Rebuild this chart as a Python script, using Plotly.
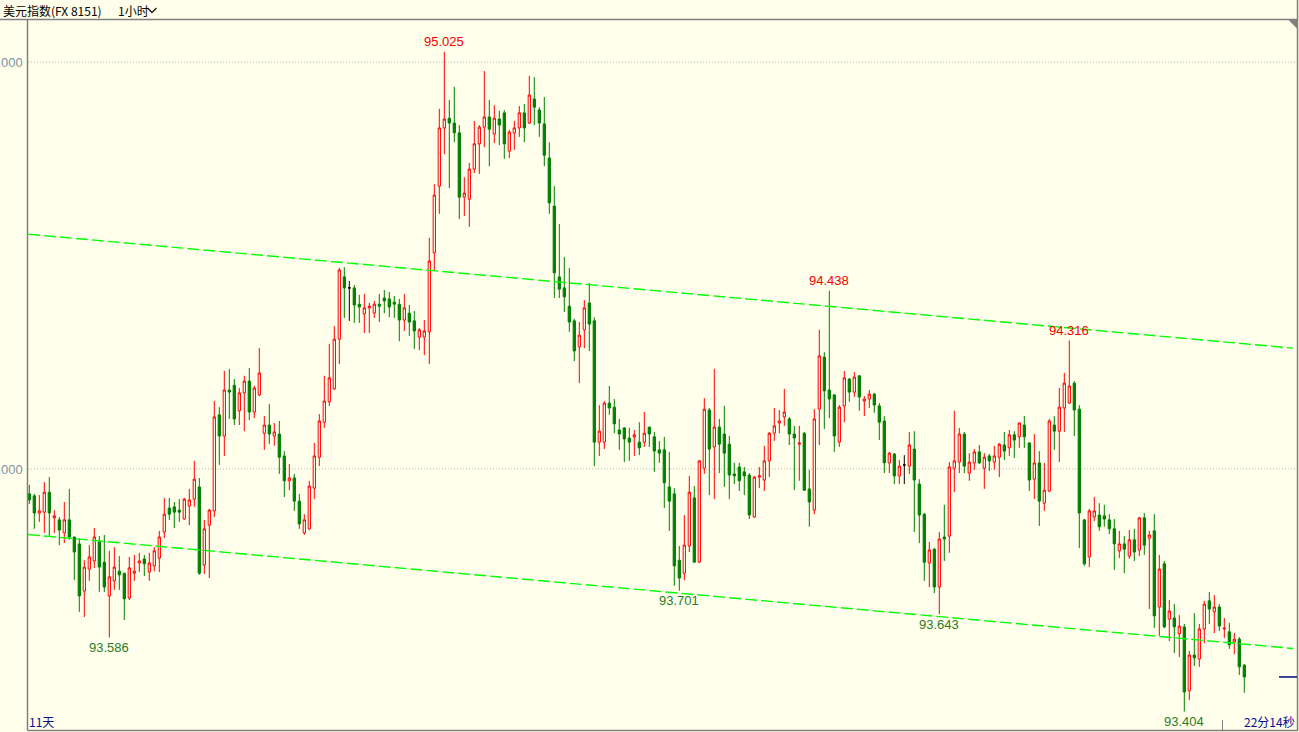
import plotly.graph_objects as go

# ---------------- data ----------------
open_ = [
    93.939, 93.934, 93.892, 93.894, 93.943, 93.880, 93.875, 93.843, 93.875, 93.833,
    93.816, 93.700, 93.754, 93.774, 93.821, 93.771, 93.688, 93.725, 93.749, 93.744,
    93.683, 93.744, 93.769, 93.779, 93.747, 93.762, 93.781, 93.845, 93.904, 93.907,
    93.899, 93.877, 93.909, 93.926, 93.956, 93.764, 93.862, 93.897, 94.133, 94.081,
    94.194, 94.206, 94.143, 94.187, 94.216, 94.140, 94.182, 94.088, 94.108, 94.081,
    94.086, 94.032, 93.971, 93.978, 93.921, 93.843, 93.853, 93.953, 94.029, 94.115,
    94.165, 94.197, 94.319, 94.472, 94.445, 94.445, 94.405, 94.381, 94.396, 94.383,
    94.405, 94.420, 94.418, 94.410, 94.405, 94.366, 94.383, 94.364, 94.324, 94.324,
    94.337, 94.531, 94.695, 94.838, 94.862, 94.850, 94.826, 94.668, 94.663, 94.737,
    94.799, 94.840, 94.865, 94.823, 94.860, 94.875, 94.781, 94.826, 94.838, 94.875,
    94.850, 94.909, 94.882, 94.848, 94.764, 94.646, 94.472, 94.445, 94.400, 94.364,
    94.300, 94.342, 94.408, 94.364, 94.066, 94.066, 94.162, 94.152, 94.096, 94.101,
    94.076, 94.079, 94.066, 94.066, 94.103, 94.079, 94.047, 94.047, 93.956, 93.939,
    93.776, 93.744, 93.811, 93.929, 93.771, 94.002, 94.145, 94.054, 94.103, 94.086,
    94.061, 93.988, 94.005, 93.993, 93.985, 93.882, 93.980, 93.973, 94.020, 94.088,
    94.113, 94.128, 94.123, 94.086, 94.061, 94.088, 93.951, 93.899, 94.147, 94.275,
    94.194, 94.182, 94.066, 94.155, 94.221, 94.189, 94.229, 94.167, 94.172, 94.184,
    94.155, 94.118, 94.015, 94.037, 93.983, 94.010, 94.007, 94.049, 93.963, 93.889,
    93.769, 93.803, 93.710, 93.833, 93.835, 94.002, 94.017, 94.086, 93.990, 94.015,
    94.042, 94.002, 94.032, 94.017, 94.029, 94.059, 94.052, 94.084, 94.079, 94.108,
    94.064, 93.975, 94.015, 93.916, 93.946, 94.108, 94.093, 94.150, 94.162, 94.211,
    94.147, 93.875, 93.784, 93.882, 93.887, 93.885, 93.875, 93.853, 93.799, 93.816,
    93.786, 93.826, 93.801, 93.880, 93.830, 93.848, 93.661, 93.767, 93.631, 93.634,
    93.595, 93.612, 93.455, 93.543, 93.533, 93.607, 93.676, 93.649, 93.661, 93.607,
    93.600, 93.575, 93.582, 93.518,
]
high = [
    93.961, 93.939, 93.936, 93.968, 93.980, 93.899, 93.882, 93.919, 93.951, 93.833,
    93.830, 93.776, 93.813, 93.855, 93.835, 93.838, 93.799, 93.808, 93.786, 93.744,
    93.784, 93.789, 93.794, 93.789, 93.794, 93.808, 93.848, 93.929, 93.929, 93.919,
    93.926, 93.929, 93.951, 94.020, 93.978, 93.875, 93.902, 94.167, 94.152, 94.241,
    94.246, 94.221, 94.199, 94.229, 94.248, 94.204, 94.297, 94.130, 94.160, 94.113,
    94.118, 94.044, 94.012, 93.988, 93.939, 93.889, 93.971, 94.064, 94.135, 94.229,
    94.307, 94.351, 94.494, 94.496, 94.462, 94.452, 94.428, 94.430, 94.408, 94.413,
    94.430, 94.440, 94.435, 94.425, 94.418, 94.430, 94.403, 94.388, 94.346, 94.366,
    94.568, 94.700, 94.885, 95.025, 94.907, 94.939, 94.845, 94.717, 94.752, 94.855,
    94.845, 94.978, 94.907, 94.894, 94.880, 94.882, 94.833, 94.855, 94.892, 94.897,
    94.966, 94.963, 94.889, 94.914, 94.803, 94.695, 94.602, 94.521, 94.494, 94.369,
    94.361, 94.415, 94.457, 94.373, 94.157, 94.167, 94.204, 94.172, 94.123, 94.103,
    94.101, 94.096, 94.115, 94.140, 94.103, 94.091, 94.069, 94.079, 94.042, 93.953,
    93.811, 93.887, 93.983, 93.958, 94.022, 94.174, 94.150, 94.246, 94.123, 94.155,
    94.081, 94.015, 94.015, 94.005, 93.990, 93.983, 94.005, 94.057, 94.091, 94.150,
    94.145, 94.197, 94.128, 94.106, 94.106, 94.091, 93.998, 94.147, 94.342, 94.287,
    94.438, 94.184, 94.157, 94.241, 94.224, 94.238, 94.231, 94.179, 94.194, 94.187,
    94.162, 94.130, 94.042, 94.039, 94.022, 94.034, 94.091, 94.093, 93.975, 93.892,
    93.821, 93.806, 93.845, 93.912, 94.017, 94.143, 94.101, 94.091, 94.039, 94.049,
    94.059, 94.039, 94.037, 94.057, 94.064, 94.091, 94.096, 94.093, 94.115, 94.130,
    94.066, 94.086, 94.044, 94.015, 94.123, 94.130, 94.199, 94.236, 94.316, 94.216,
    94.157, 93.877, 93.902, 93.931, 93.916, 93.912, 93.889, 93.877, 93.848, 93.835,
    93.850, 93.853, 93.882, 93.892, 93.848, 93.889, 93.789, 93.774, 93.678, 93.668,
    93.641, 93.619, 93.553, 93.646, 93.619, 93.676, 93.698, 93.690, 93.668, 93.634,
    93.622, 93.597, 93.587, 93.521,
]
low = [
    93.914, 93.853, 93.870, 93.843, 93.833, 93.843, 93.813, 93.818, 93.826, 93.727,
    93.649, 93.636, 93.725, 93.757, 93.698, 93.698, 93.586, 93.703, 93.703, 93.629,
    93.678, 93.725, 93.747, 93.737, 93.725, 93.749, 93.747, 93.830, 93.875, 93.855,
    93.870, 93.875, 93.862, 93.907, 93.740, 93.742, 93.732, 93.882, 94.010, 94.032,
    94.123, 94.108, 94.108, 94.093, 94.120, 94.125, 94.179, 94.047, 94.061, 94.057,
    93.988, 93.931, 93.948, 93.897, 93.853, 93.838, 93.850, 93.926, 94.007, 94.101,
    94.155, 94.194, 94.258, 94.371, 94.364, 94.359, 94.359, 94.334, 94.334, 94.371,
    94.361, 94.383, 94.373, 94.371, 94.314, 94.339, 94.327, 94.295, 94.292, 94.280,
    94.258, 94.489, 94.627, 94.774, 94.690, 94.803, 94.614, 94.622, 94.595, 94.727,
    94.725, 94.791, 94.744, 94.801, 94.796, 94.762, 94.764, 94.784, 94.816, 94.803,
    94.848, 94.845, 94.816, 94.744, 94.627, 94.420, 94.420, 94.386, 94.337, 94.265,
    94.211, 94.297, 94.290, 94.007, 94.032, 94.049, 94.133, 94.088, 94.047, 94.017,
    94.020, 94.032, 94.034, 94.054, 94.054, 93.993, 94.015, 93.904, 93.848, 93.713,
    93.701, 93.727, 93.796, 93.771, 93.769, 93.988, 93.936, 93.926, 93.990, 93.956,
    93.926, 93.963, 93.946, 93.936, 93.877, 93.880, 93.953, 93.946, 93.980, 94.069,
    94.088, 94.106, 94.059, 93.948, 93.971, 93.946, 93.858, 93.889, 94.059, 94.098,
    94.125, 94.042, 94.054, 94.115, 94.165, 94.177, 94.143, 94.130, 94.150, 94.138,
    94.071, 93.990, 93.990, 93.963, 93.963, 93.963, 93.988, 93.845, 93.818, 93.725,
    93.710, 93.695, 93.643, 93.774, 93.794, 93.943, 93.990, 93.990, 93.971, 93.998,
    94.012, 93.951, 93.995, 93.998, 93.980, 94.022, 94.032, 94.027, 94.052, 94.052,
    93.946, 93.926, 93.860, 93.897, 93.943, 94.047, 94.017, 94.091, 94.160, 94.081,
    93.806, 93.762, 93.759, 93.872, 93.848, 93.858, 93.840, 93.752, 93.781, 93.744,
    93.779, 93.774, 93.786, 93.789, 93.656, 93.609, 93.590, 93.609, 93.577, 93.548,
    93.538, 93.404, 93.432, 93.516, 93.514, 93.572, 93.619, 93.597, 93.602, 93.585,
    93.558, 93.545, 93.494, 93.450,
]
close = [
    93.924, 93.892, 93.897, 93.943, 93.892, 93.885, 93.850, 93.875, 93.833, 93.796,
    93.688, 93.759, 93.784, 93.833, 93.759, 93.710, 93.735, 93.759, 93.740, 93.681,
    93.757, 93.749, 93.774, 93.767, 93.769, 93.799, 93.833, 93.889, 93.889, 93.894,
    93.894, 93.926, 93.924, 93.975, 93.744, 93.853, 93.899, 94.128, 94.081, 94.194,
    94.189, 94.123, 94.187, 94.216, 94.140, 94.199, 94.236, 94.108, 94.086, 94.091,
    94.029, 93.971, 93.978, 93.921, 93.865, 93.875, 93.958, 94.032, 94.118, 94.167,
    94.224, 94.319, 94.489, 94.445, 94.445, 94.403, 94.398, 94.396, 94.400, 94.405,
    94.400, 94.413, 94.398, 94.405, 94.366, 94.396, 94.361, 94.339, 94.342, 94.339,
    94.511, 94.673, 94.838, 94.860, 94.850, 94.826, 94.668, 94.678, 94.737, 94.799,
    94.840, 94.865, 94.835, 94.862, 94.845, 94.799, 94.828, 94.838, 94.875, 94.838,
    94.919, 94.889, 94.850, 94.771, 94.654, 94.482, 94.442, 94.423, 94.361, 94.290,
    94.329, 94.396, 94.356, 94.066, 94.093, 94.162, 94.150, 94.111, 94.086, 94.074,
    94.066, 94.084, 94.052, 94.088, 94.086, 94.044, 94.039, 93.966, 93.921, 93.762,
    93.732, 93.813, 93.943, 93.771, 94.020, 94.147, 94.049, 94.103, 94.061, 94.039,
    93.985, 93.983, 93.971, 93.983, 93.887, 93.980, 93.983, 94.020, 94.088, 94.106,
    94.118, 94.140, 94.086, 94.076, 94.064, 93.948, 93.919, 94.123, 94.278, 94.192,
    94.172, 94.081, 94.152, 94.224, 94.189, 94.226, 94.177, 94.172, 94.184, 94.157,
    94.115, 94.015, 94.039, 93.983, 94.007, 94.010, 94.059, 93.973, 93.887, 93.771,
    93.801, 93.710, 93.828, 93.828, 94.005, 94.020, 94.086, 94.007, 94.017, 94.042,
    94.015, 94.029, 94.020, 94.032, 94.061, 94.044, 94.084, 94.071, 94.113, 94.079,
    93.973, 94.015, 93.921, 93.948, 94.118, 94.093, 94.152, 94.211, 94.204, 94.145,
    93.892, 93.767, 93.897, 93.897, 93.858, 93.877, 93.853, 93.816, 93.816, 93.803,
    93.826, 93.796, 93.880, 93.813, 93.838, 93.639, 93.754, 93.612, 93.651, 93.612,
    93.614, 93.452, 93.543, 93.536, 93.607, 93.668, 93.656, 93.661, 93.614, 93.609,
    93.568, 93.582, 93.514, 93.489,
]

high_label_idx = [83, 160, 208]
low_label_idx = [16, 130, 182, 231]

channel_x = [-0.26, 252.74]
channel_upper = [94.577, 94.297]
channel_lower = [93.839, 93.559]

grid_vals = [95.0, 94.0]
grid_text = ["95.000", "94.000"]

title_name = "美元指数(FX 8151)"
title_period = "1小时"
bottom_left_text = "11天"
bottom_right_text = "22分14秒"

# ---------------- styling ----------------
W, H = 1299, 732
ML, MR, MT, MB = 28, 2, 19, 2
PW, PH = W - ML - MR, H - MT - MB

BG = "#ffffeb"
RED = "#ff0000"
GREEN = "#008000"
FRAME = "#808080"
LIME = "#00ff00"
NAVY = "#000080"


def px_x(px):
    return (px - ML) / PW


def px_y(py):
    return (H - MB - py) / PH


idx = list(range(len(open_)))
normal = [i for i in idx if open_[i] != close[i]]
doji = [i for i in idx if open_[i] == close[i]]

fig = go.Figure()

fig.add_trace(go.Candlestick(
    x=normal,
    open=[open_[i] for i in normal],
    high=[high[i] for i in normal],
    low=[low[i] for i in normal],
    close=[close[i] for i in normal],
    increasing=dict(line=dict(color=RED, width=1), fillcolor=BG),
    decreasing=dict(line=dict(color=GREEN, width=1), fillcolor=GREEN),
    whiskerwidth=0,
    hoverinfo="skip",
    showlegend=False,
))
fig.add_trace(go.Candlestick(
    x=doji,
    open=[open_[i] for i in doji],
    high=[high[i] for i in doji],
    low=[low[i] for i in doji],
    close=[close[i] for i in doji],
    increasing=dict(line=dict(color="#000000", width=1), fillcolor="#000000"),
    decreasing=dict(line=dict(color="#000000", width=1), fillcolor="#000000"),
    whiskerwidth=0,
    hoverinfo="skip",
    showlegend=False,
))

for ys in (channel_upper, channel_lower):
    fig.add_trace(go.Scatter(
        x=channel_x, y=ys, mode="lines",
        line=dict(color=LIME, width=1.4, dash="12px,4px"),
        hoverinfo="skip", showlegend=False,
    ))

shapes = []
# dotted grid lines
for v in grid_vals:
    shapes.append(dict(type="line", xref="paper", yref="y", x0=0, x1=1, y0=v, y1=v,
                       line=dict(color="#b4b4b4", width=1, dash="1px,2px"), layer="below"))
# frame
shapes.append(dict(type="line", xref="paper", yref="paper", x0=px_x(0), x1=px_x(1297.5),
                   y0=px_y(19.5), y1=px_y(19.5), line=dict(color=FRAME, width=1.5)))
shapes.append(dict(type="line", xref="paper", yref="paper", x0=px_x(27.5), x1=px_x(27.5),
                   y0=px_y(19.5), y1=px_y(730.5), line=dict(color=FRAME, width=1.5)))
shapes.append(dict(type="line", xref="paper", yref="paper", x0=px_x(27.5), x1=px_x(1297.5),
                   y0=px_y(730.5), y1=px_y(730.5), line=dict(color=FRAME, width=1.5)))
shapes.append(dict(type="line", xref="paper", yref="paper", x0=px_x(1297.5), x1=px_x(1297.5),
                   y0=px_y(0), y1=px_y(731), line=dict(color=FRAME, width=1.5)))
# corner triangle
shapes.append(dict(type="path", xref="paper", yref="paper",
                   path="M %f,%f L %f,%f L %f,%f Z" % (px_x(1288), px_y(19.5), px_x(1297.5), px_y(19.5),
                                                      px_x(1297.5), px_y(29)),
                   fillcolor=FRAME, line=dict(width=0)))
# bottom tick
shapes.append(dict(type="line", xref="paper", yref="paper", x0=px_x(1222.5), x1=px_x(1222.5),
                   y0=px_y(720), y1=px_y(730), line=dict(color=FRAME, width=1)))
# chevron beside title
shapes.append(dict(type="path", xref="paper", yref="paper",
                   path="M %f,%f L %f,%f L %f,%f" % (px_x(147.5), px_y(8), px_x(152), px_y(12.5),
                                                    px_x(156.5), px_y(8)),
                   line=dict(color="#202020", width=1.5)))
# last price marker
shapes.append(dict(type="line", xref="paper", yref="y", x0=px_x(1279), x1=px_x(1297),
                   y0=close[-1], y1=close[-1], line=dict(color=NAVY, width=1.5)))

annotations = []
# title
annotations.append(dict(xref="paper", yref="paper", x=px_x(1), y=px_y(10.5), xanchor="left",
                        yanchor="middle", text=title_name, showarrow=False,
                        font=dict(family="Noto Sans CJK SC", size=12, color="#000000")))
annotations.append(dict(xref="paper", yref="paper", x=px_x(116), y=px_y(10.5), xanchor="left",
                        yanchor="middle", text=title_period, showarrow=False,
                        font=dict(family="Noto Sans CJK SC", size=12, color="#000000")))
# y labels
for v, t in zip(grid_vals, grid_text):
    annotations.append(dict(xref="paper", yref="y", x=px_x(25), y=v, xanchor="right",
                            yanchor="middle", text=t, showarrow=False,
                            font=dict(family="Liberation Sans", size=13, color="#8093a8")))
# extreme labels
for i in high_label_idx:
    annotations.append(dict(xref="x", yref="y", x=i, y=high[i], yshift=10, xanchor="center",
                            yanchor="middle", text="%.3f" % high[i], showarrow=False,
                            font=dict(family="Liberation Sans", size=13, color="#f00000")))
for i in low_label_idx:
    annotations.append(dict(xref="x", yref="y", x=i, y=low[i], yshift=-10, xanchor="center",
                            yanchor="middle", text="%.3f" % low[i], showarrow=False,
                            font=dict(family="Liberation Sans", size=13, color="#2a7a2a")))
# bottom texts
annotations.append(dict(xref="paper", yref="paper", x=px_x(27), y=px_y(721.5), xanchor="left",
                        yanchor="middle", text=bottom_left_text, showarrow=False,
                        font=dict(family="Noto Sans CJK SC", size=12, color="#0a0a96")))
annotations.append(dict(xref="paper", yref="paper", x=px_x(1297), y=px_y(721.5), xanchor="right",
                        yanchor="middle", text=bottom_right_text, showarrow=False,
                        font=dict(family="Noto Sans CJK SC", size=12, color="#0a0a96")))

fig.update_layout(
    width=W, height=H,
    margin=dict(l=ML, r=MR, t=MT, b=MB, pad=0),
    paper_bgcolor=BG, plot_bgcolor=BG,
    showlegend=False,
    boxgap=0.35, boxgroupgap=0.3,
    shapes=shapes,
    annotations=annotations,
    xaxis=dict(range=[-0.26, 253.54], showgrid=False, zeroline=False, showticklabels=False,
               ticks="", showline=False, rangeslider=dict(visible=False), fixedrange=True),
    yaxis=dict(range=[93.3587, 95.1057], showgrid=False, zeroline=False, showticklabels=False,
               ticks="", showline=False, fixedrange=True),
)

fig.write_html("out.html", config={"displayModeBar": False},
               post_script="document.body.style.margin='0px';document.body.style.overflow='hidden';")
